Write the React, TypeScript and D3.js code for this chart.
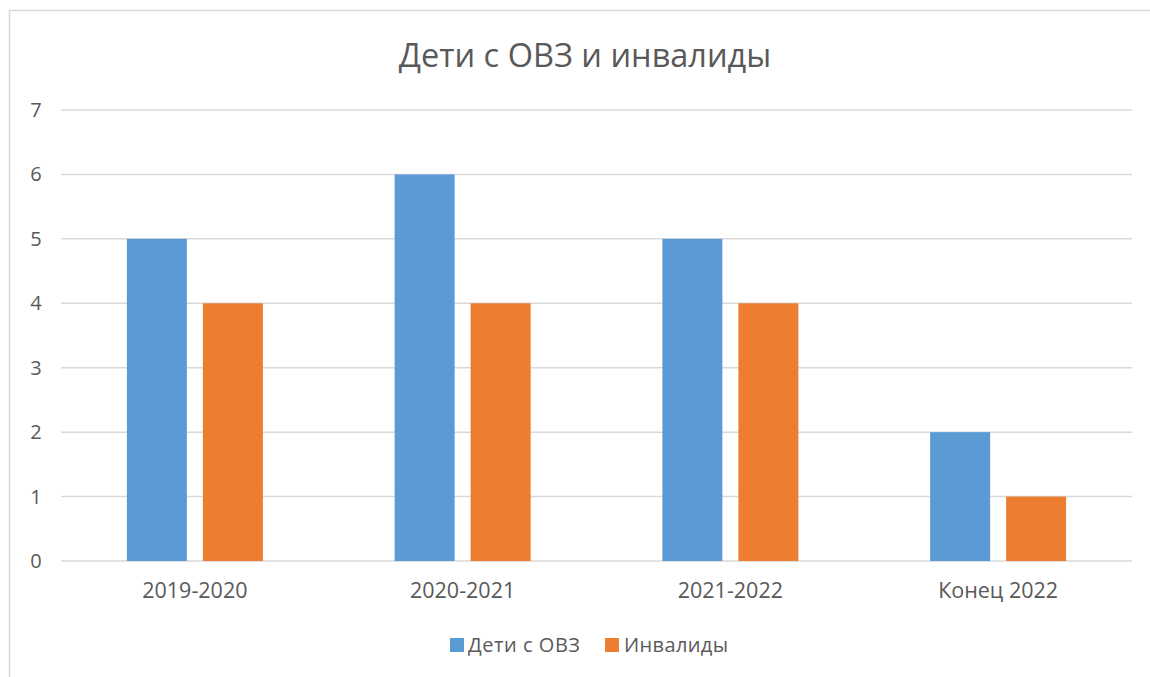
import React from "react";
import * as d3 from "d3";

const categories = ["2019-2020", "2020-2021", "2021-2022", "Конец 2022"];
const seriesNames = ["Дети с ОВЗ", "Инвалиды"];
const ovzValues = [5, 6, 5, 2];
const invalidValues = [4, 4, 4, 1];
const yTicks = [0, 1, 2, 3, 4, 5, 6, 7];
const colors = ["#5b9bd5", "#ed7d31"];

const W = 1150;
const H = 677;
const FONT = "'Open Sans', 'Liberation Sans', sans-serif";

const App = () => {
  const left = 61;
  const right = 1132;
  const top = 110;
  const bottom = 561;

  const x = d3.scaleBand().domain(categories).range([left, right]);
  const y = d3.scaleLinear().domain([0, 7]).range([bottom, top]);
  const barW = 60;
  const gap = 16;

  const series = [ovzValues, invalidValues];

  return (
    <svg
      width={W}
      height={H}
      style={{ position: "absolute", left: 0, top: 0, background: "#fff" }}
      fontFamily={FONT}
    >
      <rect x={9.5} y={10.5} width={W} height={H} fill="#fff" stroke="#d9d9d9" strokeWidth={1.5} />
      <text x={585} y={67} textAnchor="middle" fontSize={32.5} fill="#595959">
        Дети с ОВЗ и инвалиды
      </text>
      {yTicks.map((t) => (
        <g key={t}>
          <line x1={left} x2={right} y1={y(t)} y2={y(t)} stroke="#d9d9d9" strokeWidth={1.5} />
          <text x={36} y={y(t) + 7} textAnchor="middle" fontSize={20} fill="#595959">
            {t}
          </text>
        </g>
      ))}
      {categories.map((c, i) => {
        const cx = (x(c) as number) + x.bandwidth() / 2;
        return (
          <g key={c}>
            {series.map((vals, s) => {
              const bx = s === 0 ? cx - gap / 2 - barW : cx + gap / 2;
              return (
                <rect
                  key={s}
                  x={bx}
                  y={y(vals[i])}
                  width={barW}
                  height={y(0) - y(vals[i])}
                  fill={colors[s]}
                />
              );
            })}
            <text x={cx} y={598} textAnchor="middle" fontSize={21.5} fill="#595959">
              {c}
            </text>
          </g>
        );
      })}
      <g>
        <rect x={450} y={638} width={14} height={14} fill={colors[0]} />
        <text x={468} y={652} fontSize={20} fill="#595959" textLength={112}>
          {seriesNames[0]}
        </text>
        <rect x={605} y={638} width={14} height={14} fill={colors[1]} />
        <text x={624} y={652} fontSize={20} fill="#595959" textLength={104}>
          {seriesNames[1]}
        </text>
      </g>
    </svg>
  );
};

export default App;
